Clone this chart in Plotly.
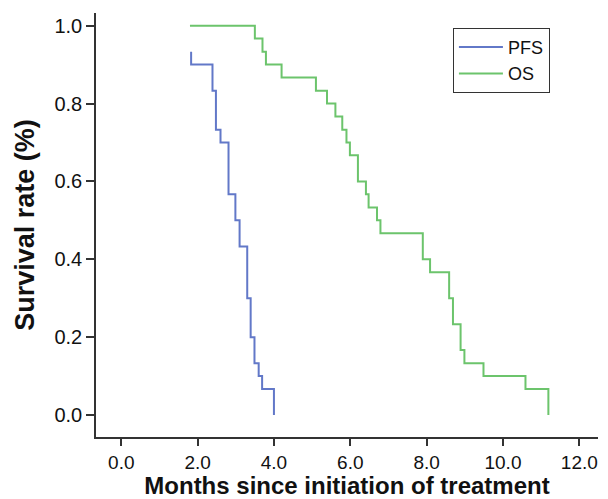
import plotly.graph_objects as go

# PFS Kaplan-Meier steps (months, survival)
pfs_t = [1.83, 1.83, 2.39, 2.48, 2.60, 2.81, 2.99, 3.10, 3.30, 3.39, 3.49, 3.60, 3.69, 4.00]
pfs_s = [0.933, 0.900, 0.833, 0.733, 0.700, 0.567, 0.500, 0.433, 0.300, 0.200, 0.133, 0.100, 0.067, 0.000]

# OS Kaplan-Meier steps
os_t = [1.80, 3.50, 3.70, 3.79, 4.20, 5.10, 5.39, 5.61, 5.79, 5.90, 5.99, 6.20, 6.41, 6.48, 6.70,
        6.79, 7.90, 8.09, 8.59, 8.69, 8.89, 8.99, 9.49, 10.59, 11.19]
os_s = [1.000, 0.967, 0.933, 0.900, 0.867, 0.833, 0.800, 0.767, 0.733, 0.700, 0.667, 0.600, 0.567, 0.533, 0.500,
        0.467, 0.400, 0.367, 0.300, 0.233, 0.167, 0.133, 0.100, 0.067, 0.000]

x_ticks = [0, 2, 4, 6, 8, 10, 12]
x_tick_labels = ["0.0", "2.0", "4.0", "6.0", "8.0", "10.0", "12.0"]
y_ticks = [0, 0.2, 0.4, 0.6, 0.8, 1.0]
y_tick_labels = ["0.0", "0.2", "0.4", "0.6", "0.8", "1.0"]

fig = go.Figure()
fig.add_trace(go.Scatter(x=pfs_t, y=pfs_s, mode="lines", name="PFS",
                         line=dict(shape="hv", color="#6278C8", width=2)))
fig.add_trace(go.Scatter(x=os_t, y=os_s, mode="lines", name="OS",
                         line=dict(shape="hv", color="#6CC46C", width=2)))

FAM = "Liberation Sans, Arial, sans-serif"

fig.update_layout(
    width=600, height=491,
    margin=dict(l=88, r=10, t=5, b=62, autoexpand=False),
    paper_bgcolor="white", plot_bgcolor="white",
    showlegend=True,
    legend=dict(x=0.711, y=0.965, xanchor="left", yanchor="top",
                bordercolor="#333", borderwidth=1, bgcolor="white",
                font=dict(family=FAM, size=18, color="#111"),
                itemwidth=44, tracegroupgap=0),
    xaxis=dict(range=[-0.662, 12.49], tickvals=x_ticks, ticktext=x_tick_labels,
               showgrid=False, zeroline=False, showline=True, linecolor="#333", linewidth=1.5,
               ticks="outside", ticklen=7, tickcolor="#333", tickwidth=1.5,
               tickfont=dict(family=FAM, size=19, color="#111"), automargin=False,
               title=dict(text="<b>Months since initiation of treatment</b>",
                          font=dict(family=FAM, size=24, color="#111"), standoff=7)),
    yaxis=dict(range=[-0.0565, 1.0326], tickvals=y_ticks, ticktext=y_tick_labels,
               showgrid=False, zeroline=False, showline=True, linecolor="#333", linewidth=1.5,
               ticks="outside", ticklen=8, tickcolor="#333", tickwidth=1.5,
               tickfont=dict(family=FAM, size=20, color="#111"), automargin=False,
               title=dict(text="<b>Survival rate (%)</b>",
                          font=dict(family=FAM, size=27, color="#111"), standoff=12)),
)

fig.write_html("out.html")
